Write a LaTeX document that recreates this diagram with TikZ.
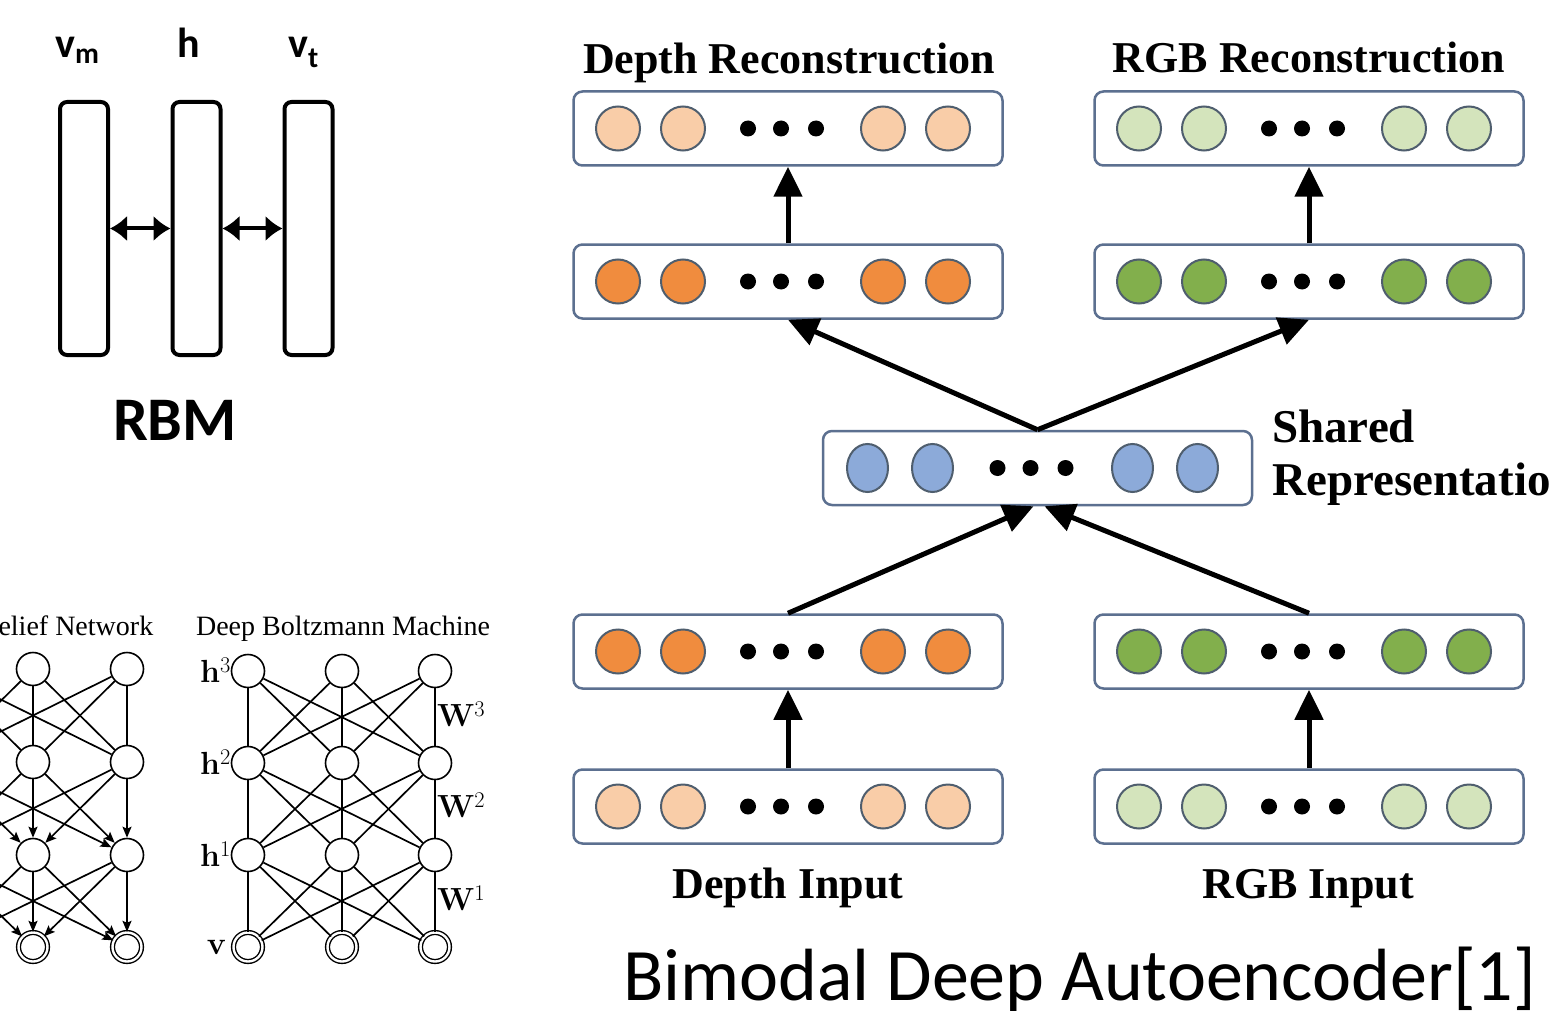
\documentclass[tikz,border=0pt]{standalone}
\usepackage{fontspec}
\newfontfamily\calib{Carlito}
\newfontfamily\tnr{Liberation Serif}
\usetikzlibrary{arrows.meta,shapes.geometric}
\definecolor{lor}{HTML}{F9CDA8}
\definecolor{dor}{HTML}{F08C3E}
\definecolor{lgr}{HTML}{D4E4BC}
\definecolor{dgr}{HTML}{82AF4C}
\definecolor{blu}{HTML}{8CAAD9}
\definecolor{unitc}{HTML}{4F5E6E}
\definecolor{boxc}{HTML}{5C7090}
\newcommand\mklayer[5]{%
  \node[layer] (#1) at (#2,#3) {};
  \foreach \o [count=\i] in {-170,-105,95,160}
    \node[#5, fill=#4] (#1-\i) at ({#2+\o},#3) {};
  \foreach \o [count=\i] in {-40,-7,28}
    \node[dotn] (#1-d\i) at ({#2+\o},#3) {};
}
\begin{document}
\begin{tikzpicture}[x=1pt,y=-1pt,
  rbmbox/.style={draw, line width=4pt, rounded corners=7pt, minimum width=48pt, minimum height=253pt, inner sep=0pt},
  rbmarr/.style={line width=4pt, {Latex[length=17pt,width=26pt]}-{Latex[length=17pt,width=26pt]}},
  layer/.style={draw=boxc, line width=2.5pt, rounded corners=9pt, minimum width=429pt, minimum height=74pt, inner sep=0pt, fill=white},
  unit/.style={circle, draw=unitc, line width=2pt, minimum size=44pt, inner sep=0pt},
  eunit/.style={ellipse, draw=unitc, line width=2pt, minimum width=41pt, minimum height=48pt, inner sep=0pt},
  dotn/.style={circle, fill=black, minimum size=16pt, inner sep=0pt},
  bigarr/.style={line width=5pt, -{Triangle[length=30pt,width=28pt]}},
  nn/.style={circle, draw, line width=1.6pt, minimum size=33pt, inner sep=0pt, fill=white},
  vn/.style={circle, draw, line width=1.4pt, double, double distance=2.4pt, minimum size=29pt, inner sep=0pt, fill=white},
  ln/.style={line width=1.7pt},
  sarr/.style={-{Stealth[length=11pt,width=9pt,inset=2pt]}},
  serifT/.style={font=\tnr\fontsize{44}{50}\selectfont\bfseries, inner sep=0pt, anchor=base},
  smallT/.style={font=\tnr\fontsize{28}{32}\selectfont, inner sep=0pt, anchor=base},
  lab/.style={font=\fontsize{32}{36}\selectfont, inner sep=0pt}
]
\useasboundingbox (0,0) rectangle (1550,1011);
\clip (0,0) rectangle (1550,1011);
\fill[white] (0,0) rectangle (1550,1011);

% ---------------- RBM ----------------
\node[rbmbox] (vm) at (84,228.5) {};
\node[rbmbox] (hh) at (196.5,228.5) {};
\node[rbmbox] (vt) at (308.5,228.5) {};
\draw[rbmarr] (vm.east) -- (hh.west);
\draw[rbmarr] (hh.east) -- (vt.west);
\node[font=\calib\fontsize{42}{46}\selectfont\bfseries, inner sep=0pt, anchor=base west] (lvm) at (55,58) {v\textsubscript{m}};
\node[font=\calib\fontsize{42}{46}\selectfont\bfseries, inner sep=0pt, anchor=base west] (lh) at (177,58) {h};
\node[font=\calib\fontsize{42}{46}\selectfont\bfseries, inner sep=0pt, anchor=base west] (lvt) at (288,58) {v\textsubscript{t}};
\node[font=\calib\fontsize{62}{66}\selectfont\bfseries, inner sep=0pt, anchor=base] (rbm) at (175,440) {RBM};

% ---------------- Deep Belief Network ----------------
\node[smallT] (dbnt) at (33.5,635) {Deep Belief Network};
\foreach \c/\x in {1/-61,2/33,3/127} {
  \foreach \r/\y in {1/669,2/762,3/855}
    \node[nn] (bn\r\c) at (\x,\y) {};
  \node[vn] (bn4\c) at (\x,947) {};
}
\foreach \a in {1,2,3} \foreach \b in {1,2,3} {
  \draw[ln] (bn1\a) -- (bn2\b);
  \draw[ln,sarr] (bn2\a) -- (bn3\b);
  \draw[ln,sarr] (bn3\a) -- (bn4\b);
}

% ---------------- Deep Boltzmann Machine ----------------
\node[smallT] (dbmt) at (343,635) {Deep Boltzmann Machine};
\foreach \c/\x in {1/248,2/342,3/435} {
  \foreach \r/\y in {1/671,2/763,3/855}
    \node[nn] (bm\r\c) at (\x,\y) {};
  \node[vn] (bm4\c) at (\x,947) {};
}
\foreach \a in {1,2,3} \foreach \b in {1,2,3} {
  \draw[ln] (bm1\a) -- (bm2\b);
  \draw[ln] (bm2\a) -- (bm3\b);
  \draw[ln] (bm3\a) -- (bm4\b);
}
\node[lab, anchor=base east] (h3) at (231,682) {\textbf{h}\textsuperscript{3}};
\node[lab, anchor=base east] (h2) at (231,774) {\textbf{h}\textsuperscript{2}};
\node[lab, anchor=base east] (h1) at (231,866) {\textbf{h}\textsuperscript{1}};
\node[lab, anchor=base east] (vv) at (226,954) {\textbf{v}};
\node[lab, anchor=base west] (w3) at (437,726) {\textbf{W}\textsuperscript{3}};
\node[lab, anchor=base west] (w2) at (437,817) {\textbf{W}\textsuperscript{2}};
\node[lab, anchor=base west] (w1) at (437,910) {\textbf{W}\textsuperscript{1}};

% ---------------- Bimodal Deep Autoencoder ----------------
\mklayer{dRec}{788}{128.5}{lor}{unit}
\mklayer{dH2}{788}{281.5}{dor}{unit}
\mklayer{dH}{788}{651.5}{dor}{unit}
\mklayer{dIn}{788}{806.5}{lor}{unit}
\mklayer{rRec}{1309}{128.5}{lgr}{unit}
\mklayer{rH2}{1309}{281.5}{dgr}{unit}
\mklayer{rH}{1309}{651.5}{dgr}{unit}
\mklayer{rIn}{1309}{806.5}{lgr}{unit}
\mklayer{sh}{1037.5}{468}{blu}{eunit}

\draw[bigarr] (dIn.north) -- (dH.south);
\draw[bigarr] (rIn.north) -- (rH.south);
\draw[bigarr] (dH2.north) -- (dRec.south);
\draw[bigarr] (rH2.north) -- (rRec.south);
\draw[bigarr] (sh.north) -- (dH2.south);
\draw[bigarr] (sh.north) -- (rH2.south);
\draw[bigarr] (dH.north) -- ([xshift=-4pt]sh.south);
\draw[bigarr] (rH.north) -- ([xshift=7pt]sh.south);

\node[serifT] (tdr) at (789,74) {Depth Reconstruction};
\node[serifT] (trr) at (1309,73) {RGB Reconstruction};
\node[serifT] (tdi) at (788,898) {Depth Input};
\node[serifT] (tri) at (1308,898) {RGB Input};
\node[font=\tnr\fontsize{47}{52}\selectfont\bfseries, inner sep=0pt, anchor=base west] (tsh) at (1272,442) {Shared};
\node[font=\tnr\fontsize{47}{52}\selectfont\bfseries, inner sep=0pt, anchor=base west] (tsr) at (1272,495) {Representation};
\node[font=\calib\fontsize{74}{80}\selectfont, inner sep=0pt, anchor=base west] (tb) at (623,1000) {Bimodal Deep Autoencoder[1]};
\end{tikzpicture}
\end{document}
